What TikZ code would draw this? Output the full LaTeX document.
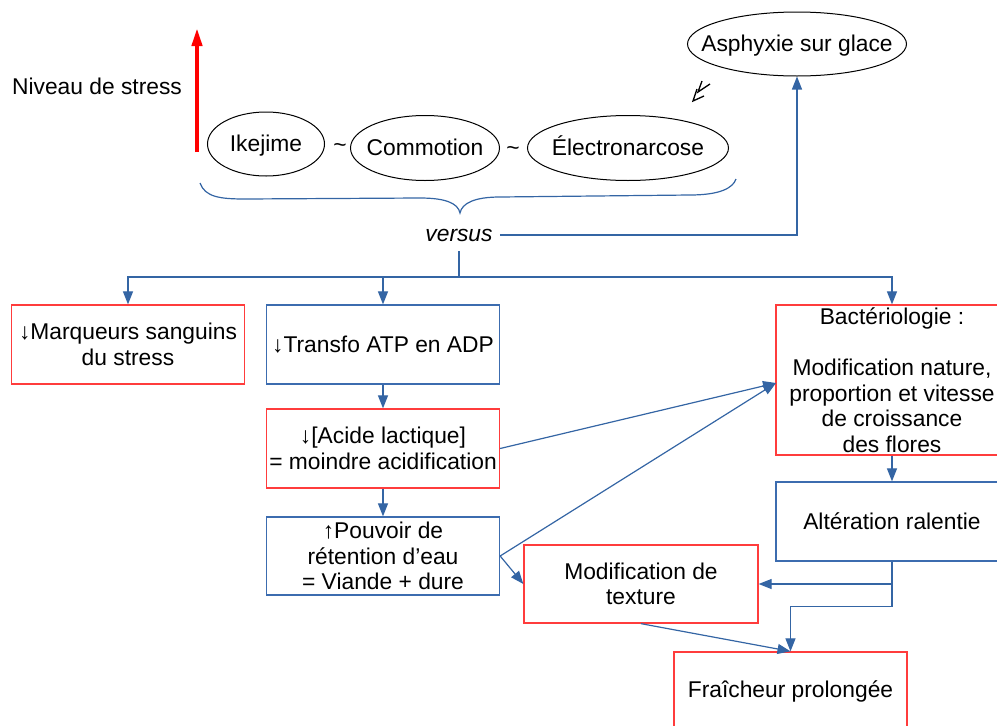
\documentclass[tikz,border=0pt]{standalone}
\usepackage{fontspec}
\setmainfont{Liberation Sans}
\usetikzlibrary{arrows.meta,shapes.geometric}
\definecolor{lnblue}{RGB}{52,101,164}
\definecolor{bxred}{RGB}{255,60,60}
\definecolor{bxblue}{RGB}{60,108,175}
\newcommand{\elltext}[1]{\makebox[0pt]{\vphantom{A}\smash{#1}}}
\begin{document}
\begin{tikzpicture}[x=1pt,y=-1pt,
  every node/.style={font=\fontsize{22.8}{25.5}\selectfont, inner sep=0pt},
  boxbase/.style={draw, line width=1.3pt, minimum width=233pt, minimum height=79pt, align=center},
  redbox/.style={boxbase, draw=bxred},
  bluebox/.style={boxbase, draw=bxblue},
  ell/.style={ellipse, draw=black, line width=1pt},
  conn/.style={draw=lnblue, line width=1.2pt},
  arr/.style={conn, -{Triangle[length=13pt,width=10pt]}, color=lnblue}
]
\useasboundingbox (0,0) rectangle (997,726);
\clip (0,0) rectangle (997,726);

% stress level
\node (nv) at (97,86) {Niveau de stress};
\coordinate (rs) at (197,152);
\coordinate (re) at (197,28);
\draw[red, line width=4pt, -{Triangle[length=18pt,width=10pt]}] (rs) -- (re);

% ellipses
\node[ell, minimum width=117pt, minimum height=64pt] (ike) at (266,144) {\elltext{Ikejime}};
\node[ell, minimum width=149pt, minimum height=65pt] (com) at (425,148) {\elltext{Commotion}};
\node[ell, minimum width=201pt, minimum height=65pt] (ele) at (628,148) {\elltext{Électronarcose}};
\node[ell, minimum width=219pt, minimum height=64pt] (asp) at (797,44) {\elltext{Asphyxie sur glace}};
\node (t1) at (340,148) {\char"7E};
\node (t2) at (513,151) {\char"7E};

% double chevron
\draw[black, line width=1.3pt] (697,89) -- (693,101) -- (704,96);
\draw[black, line width=1.3pt] (702,81) -- (698,92) -- (710,84);

% brace
\draw[conn] (200,183) .. controls (205,197) and (220,199) .. (245,199) -- (420,198)
  .. controls (445,198) and (458,203) .. (460,213)
  .. controls (462,203) and (475,197) .. (500,197) -- (690,195)
  .. controls (720,195) and (733,188) .. (736,179);

\node[inner xsep=7pt, inner ysep=10pt] (vs) at (459,235) {\itshape versus};
\coordinate (split) at (459,277);

% boxes
\node[redbox] (marq) at (128,344.5) {\char"2193Marqueurs sanguins\\du stress};
\node[bluebox] (tra) at (383,344.5) {\char"2193Transfo ATP en ADP};
\node[redbox] (aci) at (383,448.5) {\char"2193[Acide lactique]\\ = moindre acidification};
\node[bluebox, minimum height=78pt] (pou) at (383,556) {\char"2191Pouvoir de\\rétention d’eau\\ = Viande + dure};
\node[redbox, minimum width=232pt, minimum height=150pt] (bac) at (892,380) {Bactériologie :\\\mbox{}\\Modification nature,\\proportion et vitesse\\de croissance\\des flores};
\node[bluebox, minimum width=232pt] (alt) at (892,521.5) {Altération ralentie};
\node[redbox, minimum width=234pt, minimum height=78pt] (tex) at (641,584) {Modification de\\texture};
\node[redbox] (fra) at (790.5,691.5) {Fraîcheur prolongée};
\coordinate (bin) at (776,383);

% connectors
\draw[arr] (vs.east) -| (asp.south);
\draw[conn] (vs.south) -- (split);
\draw[arr] (split) -| (marq.north);
\draw[arr] (split) -| (tra.north);
\draw[arr] (split) -| (bac.north);
\draw[arr] (tra.south) -- (aci.north);
\draw[arr] (aci.south) -- (pou.north);
\draw[arr] (bac.south) -- (alt.north);
\draw[arr] (aci.east) -- (bin);
\draw[arr] (pou.east) -- (bin);
\draw[arr] (pou.east) -- (tex.west);
\draw[arr] (alt.south) |- (tex.east);
\draw[arr] (alt.south) -- ++(0,45) -| (fra.north);
\draw[arr] (tex.south) -- (fra.north);
\end{tikzpicture}
\end{document}
